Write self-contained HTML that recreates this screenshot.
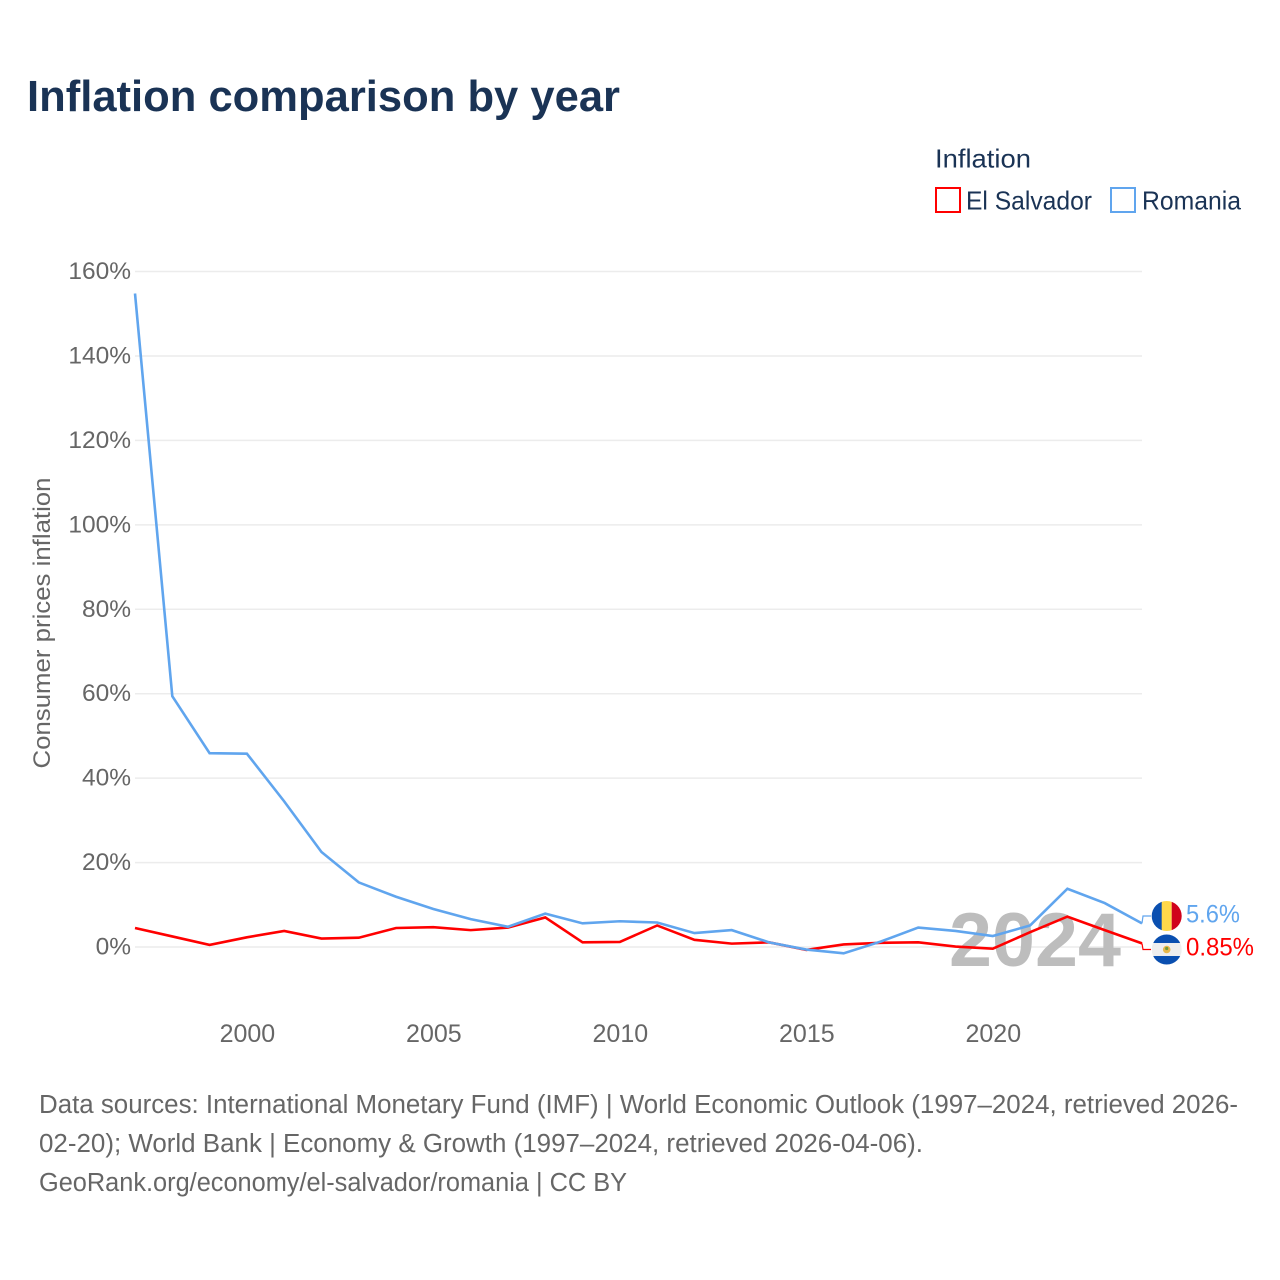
<!DOCTYPE html>
<html lang="en">
<head>
<meta charset="utf-8">
<title>Inflation comparison by year</title>
<style>
html,body{margin:0;padding:0;background:#fff}
svg{display:block;font-family:"Liberation Sans",sans-serif}
</style>
</head>
<body>
<svg id="chart" xmlns="http://www.w3.org/2000/svg" width="1280" height="1280" viewBox="0 0 1280 1280">
  <rect width="1280" height="1280" fill="#fff"/>
  <text x="27" y="111" font-size="44" font-weight="700" fill="#1a3355" textLength="593" lengthAdjust="spacingAndGlyphs">Inflation comparison by year</text>

  <g>
    <text x="935" y="167.5" font-size="26" fill="#1a3355" textLength="96" lengthAdjust="spacingAndGlyphs">Inflation</text>
    <g>
      <rect x="936" y="188" width="24" height="24" fill="#fff" stroke="#ff0000" stroke-width="2"/>
      <text x="966" y="209.5" font-size="26" fill="#1a3355" textLength="126" lengthAdjust="spacingAndGlyphs">El Salvador</text>
    </g>
    <g>
      <rect x="1111" y="188" width="24" height="24" fill="#fff" stroke="#60a5ee" stroke-width="2"/>
      <text x="1142" y="209.5" font-size="26" fill="#1a3355" textLength="99" lengthAdjust="spacingAndGlyphs">Romania</text>
    </g>
  </g>

  <g id="grid"></g>
  <g id="yticks"></g>
  <g id="xticks"></g>
  <text transform="translate(50,623) rotate(-90)" text-anchor="middle" font-size="24.5" fill="#666" textLength="291" lengthAdjust="spacingAndGlyphs">Consumer prices inflation</text>

  <text id="watermark" x="1035" y="966" text-anchor="middle" font-size="76" font-weight="700" fill="#bdbdbd" textLength="172" lengthAdjust="spacingAndGlyphs">2024</text>

  <g id="series"></g>
  <g id="endlabels"></g>

  <defs>
    <clipPath id="clip-ro"><circle cx="1166.7" cy="916" r="15"/></clipPath>
    <clipPath id="clip-sv"><circle cx="1166.7" cy="949.5" r="15"/></clipPath>
  </defs>
  <g clip-path="url(#clip-ro)">
    <rect x="1151" y="900" width="11" height="32" fill="#0a4fb0"/>
    <rect x="1161.7" y="900" width="10" height="32" fill="#ffd84a"/>
    <rect x="1171.7" y="900" width="11" height="32" fill="#d0021b"/>
  </g>
  <g clip-path="url(#clip-sv)">
    <rect x="1151" y="934" width="32" height="32" fill="#eeeeee"/>
    <rect x="1151" y="934" width="32" height="9" fill="#0a4fb0"/>
    <rect x="1151" y="956" width="32" height="10" fill="#0a4fb0"/>
    <circle cx="1166.7" cy="949.5" r="3.8" fill="#e8b84a"/>
    <circle cx="1166.7" cy="948.5" r="1.6" fill="#6f9a3c"/>
  </g>

  <g font-size="25.5" fill="#666">
    <text x="39" y="1113" textLength="1199" lengthAdjust="spacingAndGlyphs">Data sources: International Monetary Fund (IMF) | World Economic Outlook (1997–2024, retrieved 2026-</text>
    <text x="39" y="1152" textLength="884" lengthAdjust="spacingAndGlyphs">02-20); World Bank | Economy &amp; Growth (1997–2024, retrieved 2026-04-06).</text>
    <text x="39" y="1191" textLength="588" lengthAdjust="spacingAndGlyphs">GeoRank.org/economy/el-salvador/romania | CC BY</text>
  </g>
</svg>

<script>
const years = [1997,1998,1999,2000,2001,2002,2003,2004,2005,2006,2007,2008,2009,2010,2011,2012,2013,2014,2015,2016,2017,2018,2019,2020,2021,2022,2023,2024];
const romaniaValues = [154.8,59.4,45.9,45.8,34.5,22.5,15.3,11.9,9.0,6.6,4.8,7.9,5.6,6.1,5.8,3.3,4.0,1.1,-0.6,-1.5,1.3,4.6,3.8,2.6,5.1,13.8,10.4,5.6];
const elSalvadorValues = [4.5,2.5,0.5,2.3,3.8,2.0,2.2,4.5,4.7,4.0,4.6,7.0,1.1,1.2,5.1,1.7,0.8,1.1,-0.7,0.6,1.0,1.1,0.1,-0.4,3.5,7.2,4.0,0.85];
const yTicks = [0,20,40,60,80,100,120,140,160];
const xTicks = [2000,2005,2010,2015,2020];
const romaniaEndLabel = "5.6%";
const elSalvadorEndLabel = "0.85%";

const NS = "http://www.w3.org/2000/svg";
const xScale = function (year) { return 135 + (year - 1997) * (1142 - 135) / 27; };
const yScale = function (v) { return 947 - v * (947 - 271.5) / 160; };

const grid = document.getElementById("grid");
const yTickGroup = document.getElementById("yticks");
const xTickGroup = document.getElementById("xticks");
const seriesGroup = document.getElementById("series");
const endGroup = document.getElementById("endlabels");

yTicks.forEach(function (t) {
  const line = document.createElementNS(NS, "line");
  
  
  line.setAttribute("x1", 135);
  line.setAttribute("x2", 1142);
  line.setAttribute("y1", yScale(t));
  line.setAttribute("y2", yScale(t));
  line.setAttribute("stroke", "#ececec");
  line.setAttribute("stroke-width", "1.5");
  grid.appendChild(line);

  const label = document.createElementNS(NS, "text");
  
  
  label.setAttribute("x", 131);
  label.setAttribute("y", yScale(t) + 7.5);
  label.setAttribute("text-anchor", "end");
  label.setAttribute("font-size", "24.5");
  label.setAttribute("fill", "#666");
  label.textContent = t + "%";
  yTickGroup.appendChild(label);
});

xTicks.forEach(function (t) {
  const label = document.createElementNS(NS, "text");
  
  
  label.setAttribute("x", xScale(t) + 0.5);
  label.setAttribute("y", 1042);
  label.setAttribute("text-anchor", "middle");
  label.setAttribute("font-size", "25");
  label.setAttribute("fill", "#666");
  label.textContent = t;
  xTickGroup.appendChild(label);
});

function pathFor(values) {
  return values.map(function (v, i) {
    return (i ? "L" : "M") + xScale(years[i]).toFixed(2) + " " + yScale(v).toFixed(2);
  }).join(" ");
}

const redLine = document.createElementNS(NS, "path");


redLine.setAttribute("d", pathFor(elSalvadorValues));
redLine.setAttribute("fill", "none");
redLine.setAttribute("stroke", "#ff0000");
redLine.setAttribute("stroke-width", "2.6");
seriesGroup.appendChild(redLine);

const blueLine = document.createElementNS(NS, "path");


blueLine.setAttribute("d", pathFor(romaniaValues));
blueLine.setAttribute("fill", "none");
blueLine.setAttribute("stroke", "#60a5ee");
blueLine.setAttribute("stroke-width", "2.6");
seriesGroup.appendChild(blueLine);

const lastIndex = years.length - 1;
const endX = xScale(years[lastIndex]);

const blueConnector = document.createElementNS(NS, "path");


blueConnector.setAttribute("d", "M" + endX + " " + yScale(romaniaValues[lastIndex]) + " L" + (endX + 1) + " 916 L1151 916");
blueConnector.setAttribute("fill", "none");
blueConnector.setAttribute("stroke", "#60a5ee");
blueConnector.setAttribute("stroke-width", "1.2");
endGroup.appendChild(blueConnector);

const redConnector = document.createElementNS(NS, "path");


redConnector.setAttribute("d", "M" + endX + " " + yScale(elSalvadorValues[lastIndex]) + " L" + (endX + 1) + " 949.5 L1151 949.5");
redConnector.setAttribute("fill", "none");
redConnector.setAttribute("stroke", "#ff0000");
redConnector.setAttribute("stroke-width", "1.2");
endGroup.appendChild(redConnector);

const blueLabel = document.createElementNS(NS, "text");


blueLabel.setAttribute("x", 1186);
blueLabel.setAttribute("y", 922.5);
blueLabel.setAttribute("font-size", "25");
blueLabel.setAttribute("fill", "#60a5ee");
blueLabel.setAttribute("textLength", "54");
blueLabel.setAttribute("lengthAdjust", "spacingAndGlyphs");
blueLabel.textContent = romaniaEndLabel;
endGroup.appendChild(blueLabel);

const redLabel = document.createElementNS(NS, "text");


redLabel.setAttribute("x", 1186);
redLabel.setAttribute("y", 955.5);
redLabel.setAttribute("font-size", "25");
redLabel.setAttribute("fill", "#ff0000");
redLabel.setAttribute("textLength", "68");
redLabel.setAttribute("lengthAdjust", "spacingAndGlyphs");
redLabel.textContent = elSalvadorEndLabel;
endGroup.appendChild(redLabel);
</script>
</body>
</html>
